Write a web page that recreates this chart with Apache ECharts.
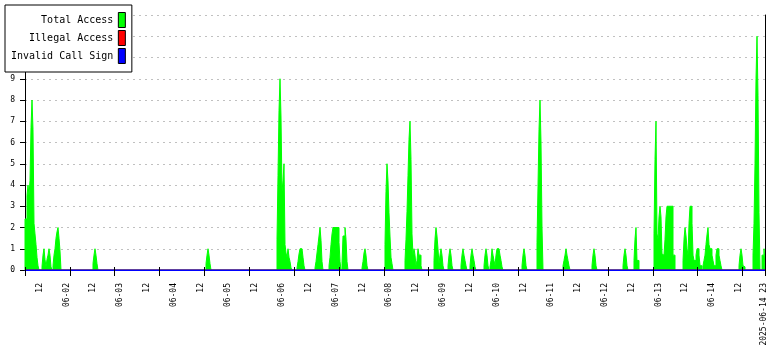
<!DOCTYPE html>
<html>
<head>
<meta charset="utf-8">
<script src="https://cdn.jsdelivr.net/npm/echarts@6/dist/echarts.min.js"></script>
<style>
  html, body { margin: 0; padding: 0; background: #fff; }
  #chart { width: 780px; height: 350px; }
</style>
</head>
<body>
<div id="chart"></div>
<script>
// ---- data -------------------------------------------------------------
// time range: 2025-06-01 06:00 .. 2025-06-15 00:00 (330 hours)
const startTime = Date.UTC(2025, 5, 1, 6, 0, 0);
const totalHours = 330;
// RRD consolidation step of the samples (hours, ~26.8 min)
const sampleHours = 0.446;

const seriesNames = ['Total Access', 'Illegal Access', 'Invalid Call Sign'];
const seriesColors = ['#00ff00', '#ff0000', '#0000ff'];

// Total Access: bursts of consecutive samples (start in hours after startTime)
const burstStart = [
  0.00, 7.58, 12.49, 30.32, 80.72, 112.38, 121.30, 129.33, 135.57, 141.37,
  150.29, 160.54, 169.46, 182.39, 188.64, 194.43, 198.45, 204.69, 207.37, 221.64,
  228.33, 239.92, 252.85, 266.68, 271.58, 280.50, 293.44, 302.35, 318.41, 324.65,
  328.67
];
const burstValues = [
  [2.4, 2.4, 3.5, 4.0, 3.5, 4.2, 6.7, 8.0, 6.6, 2.2, 1.7, 1.2, 0.6, 0.2],
  [0.15, 0.7, 1.0, 0.5, 0.15, 0.5, 0.7, 1.0, 0.7, 0.15],
  [0.2, 0.7, 1.0, 1.5, 1.8, 2.0, 1.5, 0.9],
  [0.3, 0.7, 1.0, 0.7, 0.3],
  [0.3, 0.7, 1.0, 0.7, 0.3],
  [1.45, 4.45, 7.5, 9.0, 7.2, 3.7, 4.2, 5.0, 1.2, 0.8, 0.6, 1.0, 0.6, 0.4, 0.1],
  [0.1, 0.4, 0.75, 1.0, 1.0, 1.0, 0.6, 0.2],
  [0.1, 0.4, 0.8, 1.2, 1.6, 2.0, 1.4, 0.4],
  [0.2, 0.6, 1.2, 1.7, 2.0, 2.0, 2.0, 2.0, 2.0, 2.0, 1.3, 0.4],
  [0.3, 1.6, 1.6, 2.0, 1.45, 0.4],
  [0.1, 0.4, 0.8, 1.0, 0.7, 0.2],
  [1.2, 3.7, 5.0, 4.2, 2.7, 1.6, 0.6, 0.3],
  [0.45, 1.45, 2.75, 4.45, 6.15, 7.0, 5.2, 1.7, 0.7, 1.0, 0.7, 0.2, 0.45, 1.0, 0.7, 0.7, 0.2],
  [0.45, 1.45, 2.0, 1.6, 1.0, 0.3, 0.7, 1.0, 0.7, 0.2],
  [0.2, 0.7, 1.0, 0.7, 0.2],
  [0.2, 0.7, 1.0, 0.7, 0.45, 0.2],
  [0.2, 0.7, 1.0, 0.7, 0.45, 0.15],
  [0.2, 0.7, 1.0, 0.7, 0.2],
  [0.15, 0.45, 1.0, 0.7, 0.45, 0.2, 0.7, 1.0, 1.0, 1.0, 0.7, 0.45, 0.15],
  [0.2, 0.7, 1.0, 0.7, 0.2],
  [1.3, 3.95, 6.6, 8.0, 6.0, 2.0],
  [0.2, 0.45, 0.7, 1.0, 0.7, 0.45, 0.2],
  [0.2, 0.7, 1.0, 0.7, 0.2],
  [0.2, 0.7, 1.0, 0.7, 0.2],
  [0.45, 1.45, 2.0, 0.45, 0.45],
  [1.7, 5.2, 7.0, 1.7, 1.45, 2.5, 3.0, 2.5, 0.75, 0.7, 0.7, 1.45, 2.5, 3.0, 3.0, 3.0, 3.0, 3.0, 3.0, 0.7, 0.7],
  [0.45, 1.45, 2.0, 1.6, 1.0, 0.7, 2.2, 3.0, 3.0, 2.2, 0.7, 0.45, 0.45, 0.7, 1.0, 1.0, 0.7, 0.2, 0.2],
  [0.2, 0.45, 0.7, 1.2, 1.65, 2.0, 1.2, 1.0, 1.0, 0.7, 0.45, 0.2, 0.2, 0.7, 1.0, 1.0, 0.7, 0.45, 0.2],
  [0.2, 0.7, 1.0, 0.7, 0.2, 0.15],
  [0.7, 2.2, 5.0, 9.0, 11.0, 8.2, 2.7],
  [0.7, 0.7, 1.0]
];
// Illegal Access and Invalid Call Sign stay at zero over the whole range
const illegalValues = [[0, 0], [totalHours, 0]];
const invalidValues = [[0, 0], [totalHours, 0]];

// y axis
const yMin = 0, yMax = 12, yStep = 1;
// x axis tick spacing (hours)
const tickEveryHours = 20;

// ---- build ------------------------------------------------------------
function pad(n) { return (n < 10 ? '0' : '') + n; }
const categories = [];
for (let h = 0; h < totalHours; h++) {
  const d = new Date(startTime + h * 3600000);
  categories.push(d.getUTCFullYear() + '-' + pad(d.getUTCMonth() + 1) + '-' +
    pad(d.getUTCDate()) + ' ' + pad(d.getUTCHours()));
}
// each burst is its own segment (null gap between bursts) so the outline
// never runs along the zero line
const totalData = [];
burstStart.forEach(function (s, i) {
  const vals = burstValues[i];
  if (i > 0) totalData.push([s, null]);
  totalData.push([s, 0]);
  vals.forEach(function (v, k) { totalData.push([s + k * sampleHours, v]); });
  totalData.push([Math.min(totalHours, s + vals.length * sampleHours), 0]);
});

const mono = 'DejaVu Sans Mono';
const tickFn = function (i) { return i % tickEveryHours === 0; };
const chart = echarts.init(document.getElementById('chart'), null, { renderer: 'canvas' });
chart.setOption({
  animation: false,
  backgroundColor: '#ffffff',
  grid: { left: 25, right: 15, top: 15, bottom: 80 },
  legend: {
    data: seriesNames,
    orient: 'vertical',
    align: 'right',
    left: 5, top: 5,
    itemWidth: 7, itemHeight: 15, itemGap: 2,
    padding: [7, 6, 8, 6],
    backgroundColor: '#ffffff',
    borderColor: '#000000',
    borderWidth: 1,
    icon: 'rect',
    itemStyle: { borderColor: '#000000', borderWidth: 1 },
    textStyle: { fontFamily: mono, fontSize: 10, color: '#000' },
    selectedMode: false,
    z: 10
  },
  xAxis: [
    {
      type: 'category',
      data: categories,
      boundaryGap: true,
      position: 'bottom',
      // the zero-valued "Invalid Call Sign" line coincides with the base line
      axisLine: { show: true, onZero: false, lineStyle: { color: seriesColors[2], width: 1 } },
      axisTick: {
        show: true, length: 6, lineStyle: { color: '#000', width: 1 },
        interval: tickFn
      },
      axisLabel: {
        rotate: 90, margin: 13, fontFamily: mono, fontSize: 8, color: '#000',
        interval: function (i, v) {
          const hh = v.slice(11, 13);
          return i === categories.length - 1 || hh === '00' || hh === '12';
        },
        formatter: function (v, i) {
          if (i === categories.length - 1) return v;
          const hh = v.slice(11, 13);
          if (hh === '12') return '12';
          return v.slice(5, 10);
        }
      },
      splitLine: { show: false },
      z: 5
    },
    {
      type: 'value', min: 0, max: totalHours, show: false
    },
    {
      type: 'category', data: categories, boundaryGap: true, position: 'bottom',
      axisLine: { show: false, onZero: false }, axisLabel: { show: false }, splitLine: { show: false },
      axisTick: { show: true, inside: true, length: 3, lineStyle: { color: '#000', width: 1 }, interval: tickFn },
      z: 6
    }
  ],
  yAxis: [
    {
      type: 'value', min: yMin, max: yMax, interval: yStep,
      axisLine: { show: true, lineStyle: { color: '#000', width: 1 } },
      axisTick: { show: true, length: 5, lineStyle: { color: '#000' } },
      axisLabel: { margin: 10, fontFamily: mono, fontSize: 8, color: '#000' },
      splitLine: { show: true, lineStyle: { color: '#c0c0c0', type: [2, 4], width: 1 } }
    },
    {
      type: 'value', min: yMin, max: yMax, interval: yStep, position: 'right',
      axisLine: { show: true, lineStyle: { color: '#000', width: 1 } },
      axisTick: { show: false }, axisLabel: { show: false }, splitLine: { show: false },
      z: 6
    }
  ],
  series: [
    {
      name: seriesNames[0], type: 'line', xAxisIndex: 1, yAxisIndex: 0,
      step: 'end', data: totalData, showSymbol: false, symbol: 'none',
      connectNulls: false,
      color: seriesColors[0],
      lineStyle: { color: seriesColors[0], width: 1 },
      areaStyle: { color: seriesColors[0], opacity: 1 },
      z: 2
    },
    {
      name: seriesNames[1], type: 'line', xAxisIndex: 1, yAxisIndex: 0,
      data: illegalValues, showSymbol: false, symbol: 'none',
      color: seriesColors[1], lineStyle: { color: seriesColors[1], width: 1 }, z: 3
    },
    {
      name: seriesNames[2], type: 'line', xAxisIndex: 1, yAxisIndex: 0,
      data: invalidValues, showSymbol: false, symbol: 'none',
      color: seriesColors[2], lineStyle: { color: seriesColors[2], width: 1 }, z: 4
    }
  ]
});
</script>
</body>
</html>
